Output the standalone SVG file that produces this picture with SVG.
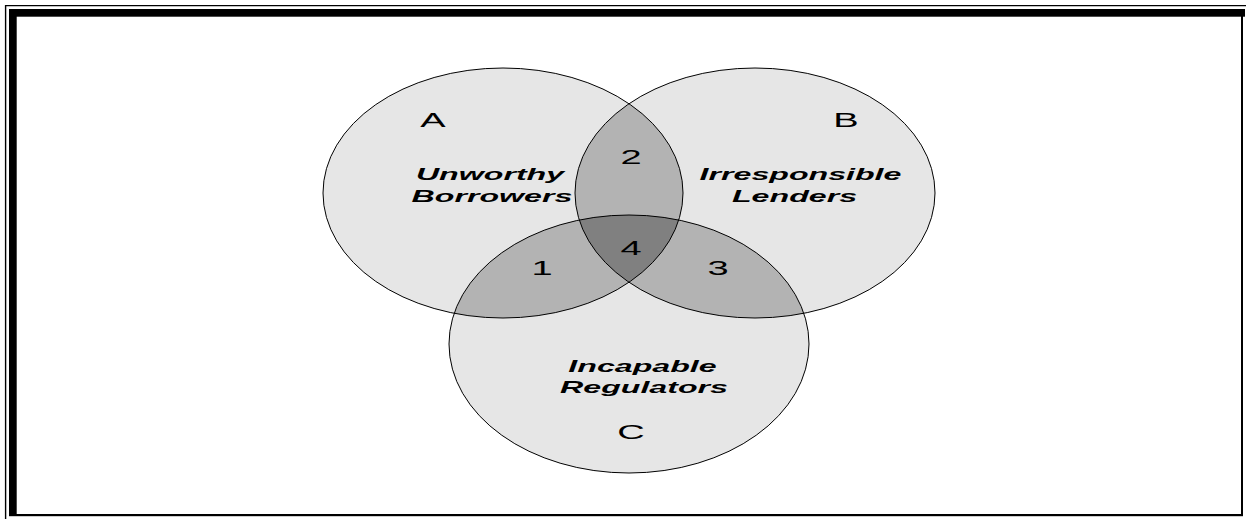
<svg xmlns="http://www.w3.org/2000/svg" width="1246" height="519" viewBox="0 0 1246 519">
  <style>
    .set { fill: #e6e6e6; }
    .two { fill: #b3b3b3; }
    .three { fill: #808080; }
    .outline { fill: none; stroke: #000; stroke-width: 1; }
    .lbl { font-family: "Liberation Sans", Arial, sans-serif; font-size: 16.5px; font-weight: bold; font-style: italic; fill: #000; text-anchor: middle; }
    .let { font-family: "Liberation Sans", Arial, sans-serif; font-size: 19.5px; fill: #000; text-anchor: middle; }
  </style>
  <defs>
    <ellipse id="eA" cx="503" cy="193" rx="180" ry="125"/>
    <ellipse id="eB" cx="755" cy="193" rx="180" ry="125"/>
    <ellipse id="eC" cx="629" cy="344" rx="180" ry="129"/>
    <clipPath id="clipA"><use href="#eA"/></clipPath>
    <clipPath id="clipB"><use href="#eB"/></clipPath>
    <clipPath id="clipAB" clip-path="url(#clipA)"><use href="#eB"/></clipPath>
  </defs>
  <rect width="1246" height="519" fill="#fff"/>

  <g id="frame">
    <line x1="5" y1="5.6" x2="1246" y2="5.6" stroke="#000" stroke-width="1.4"/>
    <line x1="5.6" y1="5" x2="5.6" y2="519" stroke="#000" stroke-width="1.4"/>
    <rect x="9" y="9" width="1236" height="7.7" fill="#000"/>
    <rect x="9" y="9" width="7.7" height="507" fill="#000"/>
    <rect x="1241" y="16" width="2" height="500" fill="#000"/>
    <rect x="9" y="514" width="1234" height="2.2" fill="#000"/>
  </g>

  <g id="regions">
    <use href="#eA" class="set"/>
    <use href="#eB" class="set"/>
    <use href="#eC" class="set"/>
    <use href="#eB" class="two" clip-path="url(#clipA)"/>
    <use href="#eC" class="two" clip-path="url(#clipA)"/>
    <use href="#eC" class="two" clip-path="url(#clipB)"/>
    <use href="#eC" class="three" clip-path="url(#clipAB)"/>
  </g>

  <g id="nodeA">
    <use href="#eA" class="outline"/>
    <text class="let" transform="translate(433,127.3) scale(1.95,1)">A</text>
    <text class="lbl" transform="translate(490,180) scale(1.95,1)">Unworthy</text>
    <text class="lbl" transform="translate(492,201.5) scale(1.95,1)">Borrowers</text>
  </g>
  <g id="nodeB">
    <use href="#eB" class="outline"/>
    <text class="let" transform="translate(846,127.3) scale(1.95,1)">B</text>
    <text class="lbl" transform="translate(800.5,180) scale(1.95,1)">Irresponsible</text>
    <text class="lbl" transform="translate(794.5,201.5) scale(1.95,1)">Lenders</text>
  </g>
  <g id="nodeC">
    <use href="#eC" class="outline"/>
    <text class="let" transform="translate(631,439.3) scale(1.95,1)">C</text>
    <text class="lbl" transform="translate(642.5,371.7) scale(1.95,1)">Incapable</text>
    <text class="lbl" transform="translate(644,393) scale(1.95,1)">Regulators</text>
  </g>
  <g id="overlaps">
    <text class="let" transform="translate(631,164) scale(1.95,1)">2</text>
    <text class="let" transform="translate(631,255) scale(1.95,1)">4</text>
    <text class="let" transform="translate(542,275) scale(1.95,1)">1</text>
    <text class="let" transform="translate(718,275) scale(1.95,1)">3</text>
  </g>
  <g id="connectors"></g>
</svg>
